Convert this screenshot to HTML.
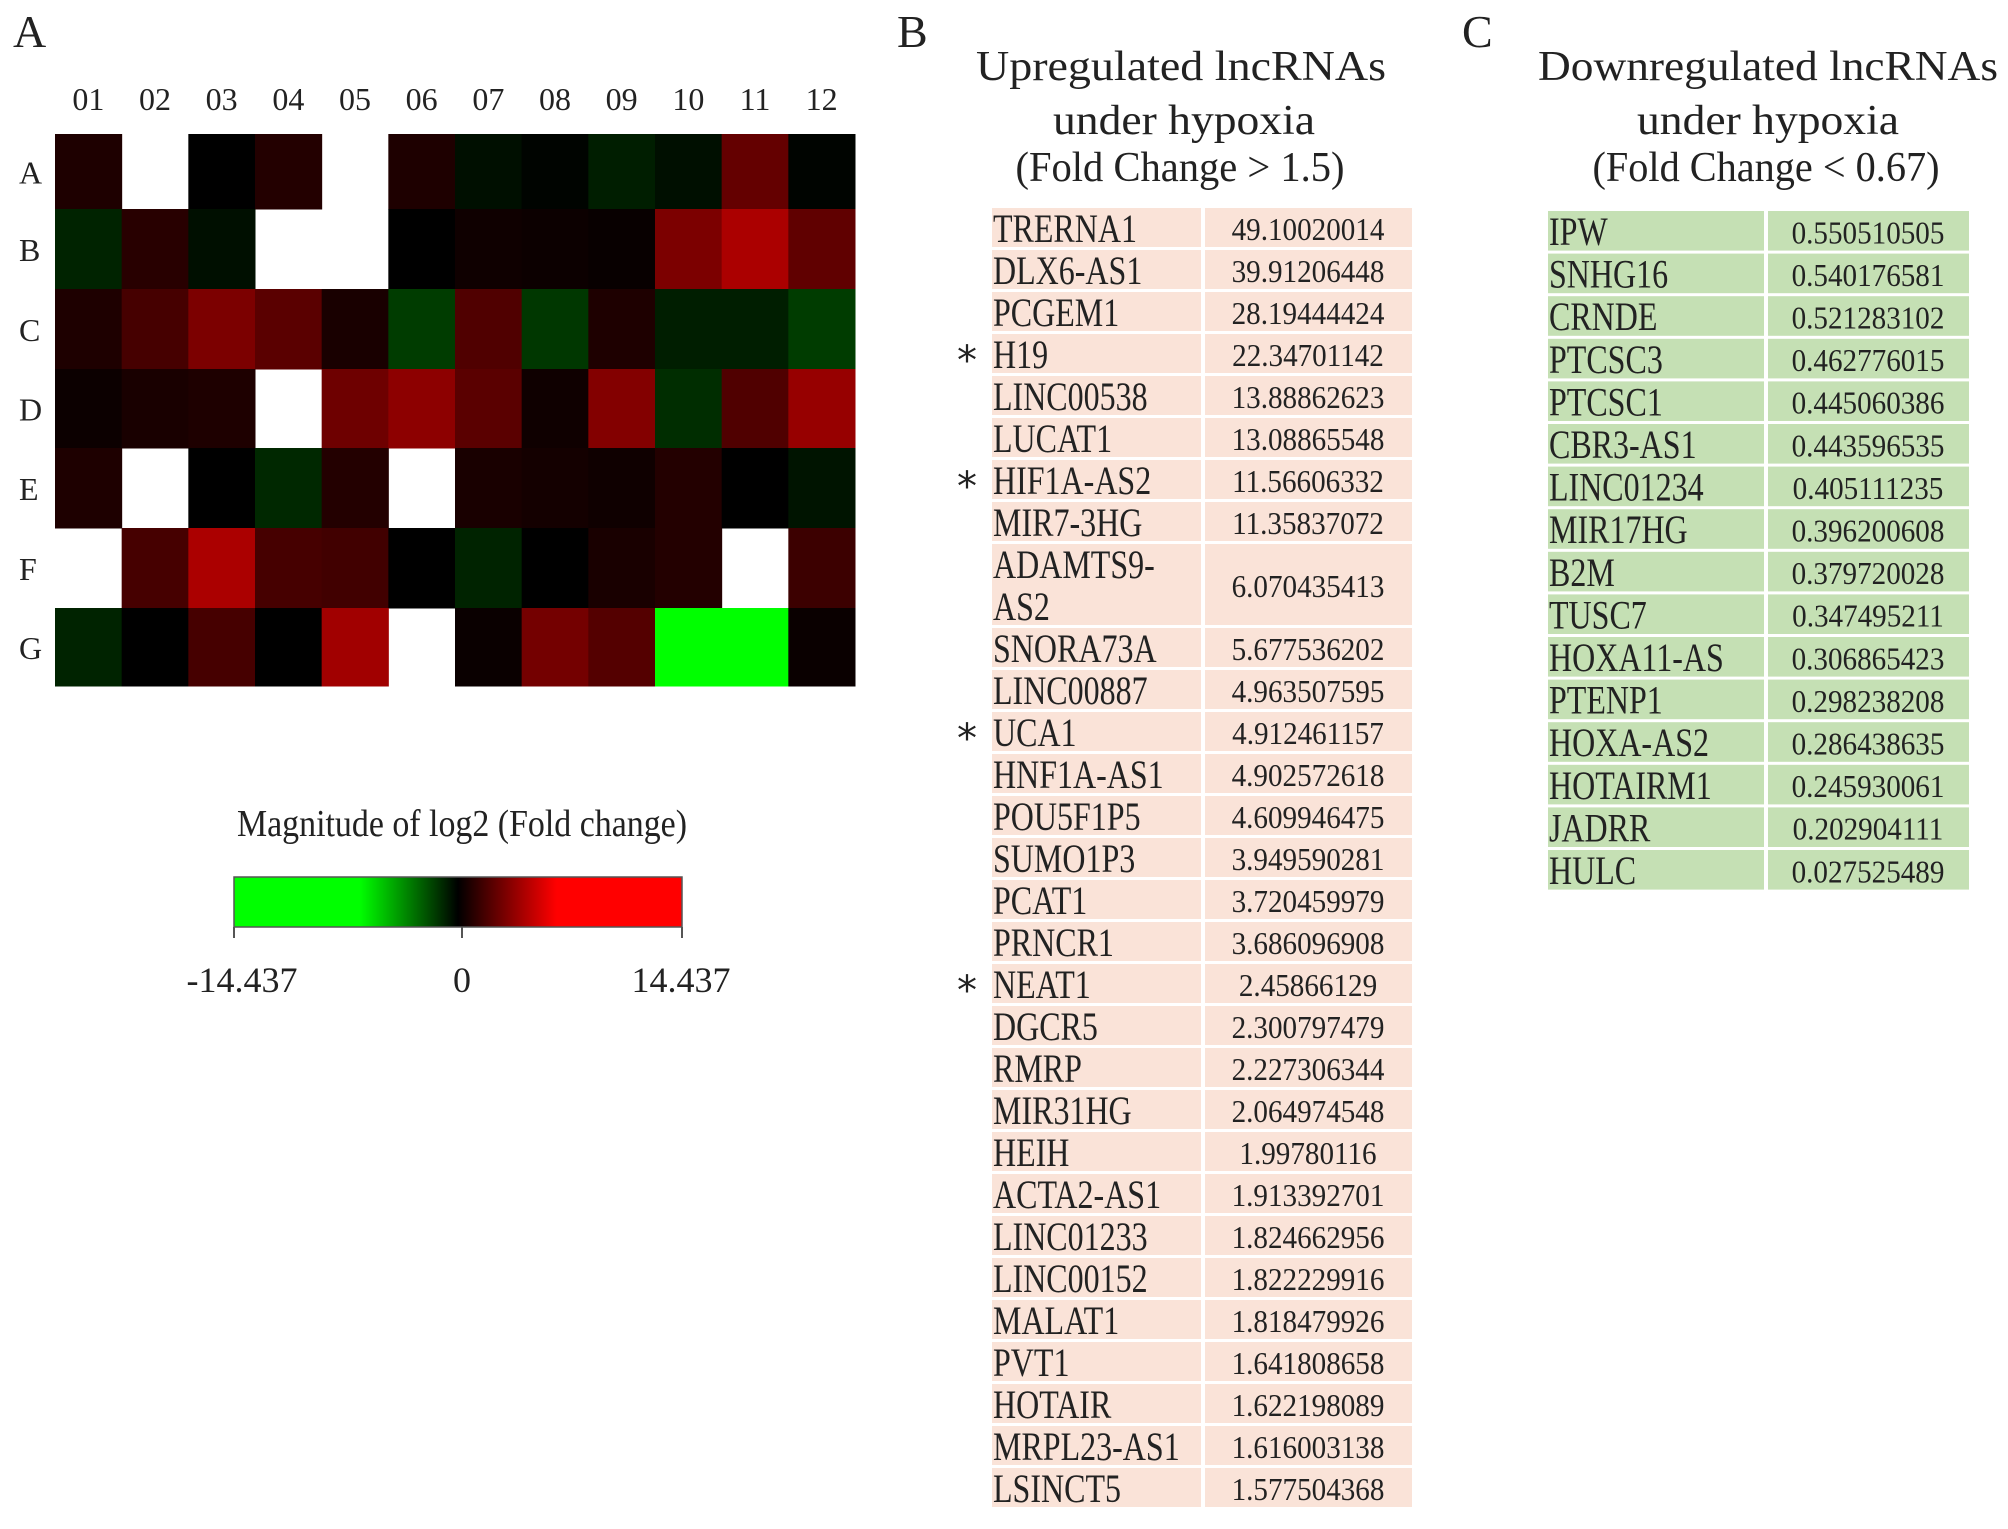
<!DOCTYPE html>
<html><head><meta charset="utf-8">
<style>
html,body{margin:0;padding:0;background:#fff;}
svg{display:block;font-family:"Liberation Serif",serif;}
</style></head>
<body>
<svg id="fig" width="2008" height="1529" viewBox="0 0 2008 1529" xmlns="http://www.w3.org/2000/svg">
<defs>
<linearGradient id="cbar" x1="0" x2="1" y1="0" y2="0">
<stop offset="0" stop-color="#00ff00"/><stop offset="0.28" stop-color="#00ff00"/>
<stop offset="0.5" stop-color="#000"/><stop offset="0.72" stop-color="#ff0000"/><stop offset="1" stop-color="#ff0000"/>
</linearGradient>
</defs>
<g id="heat"></g>
<g id="legend">
<text x="462" y="836" font-size="38" text-anchor="middle" textLength="450" lengthAdjust="spacingAndGlyphs" fill="#222">Magnitude of log2 (Fold change)</text>
<rect x="234" y="877" width="448" height="50" fill="url(#cbar)" stroke="#555" stroke-width="1.5"/>
<line x1="234" y1="927" x2="234" y2="938" stroke="#555" stroke-width="2"/>
<line x1="462" y1="927" x2="462" y2="938" stroke="#555" stroke-width="2"/>
<line x1="682" y1="927" x2="682" y2="938" stroke="#555" stroke-width="2"/>
<text x="242" y="992" font-size="36" text-anchor="middle" fill="#222">-14.437</text>
<text x="462" y="992" font-size="36" text-anchor="middle" fill="#222">0</text>
<text x="681" y="992" font-size="36" text-anchor="middle" fill="#222">14.437</text>
</g>
<text x="13" y="47" font-size="46" fill="#222">A</text>
<text x="897" y="47" font-size="46" fill="#222">B</text>
<text x="1462" y="47" font-size="46" fill="#222">C</text>
<g fill="#222" font-size="42" text-anchor="middle">
<text x="1181" y="80" textLength="410" lengthAdjust="spacingAndGlyphs">Upregulated lncRNAs</text>
<text x="1184" y="134" textLength="262" lengthAdjust="spacingAndGlyphs">under hypoxia</text>
<text x="1180" y="181" textLength="329" lengthAdjust="spacingAndGlyphs">(Fold Change &gt; 1.5)</text>
</g>
<g fill="#222" font-size="42" text-anchor="middle">
<text x="1768" y="80" textLength="460" lengthAdjust="spacingAndGlyphs">Downregulated lncRNAs</text>
<text x="1768" y="134" textLength="262" lengthAdjust="spacingAndGlyphs">under hypoxia</text>
<text x="1766" y="181" textLength="347" lengthAdjust="spacingAndGlyphs">(Fold Change &lt; 0.67)</text>
</g>
<g id="tabB"></g>
<g id="tabC"></g>
</svg>
<script>
// Heatmap data
const colLabels = ["01","02","03","04","05","06","07","08","09","10","11","12"];
const rowLabels = ["A","B","C","D","E","F","G"];
const rowA = [0.75,null,0,0.88,null,0.75,-0.38,-0.1,-0.75,-0.38,2.5,-0.1];
const rowB = [-0.88,1.0,-0.38,null,null,0,0.38,0.3,0.2,3.1,4.25,2.4];
const rowC = [0.75,1.75,3.1,2.25,0.62,-1.5,2.0,-1.38,0.75,-0.75,-0.75,-1.5];
const rowD = [0.3,0.62,0.75,null,2.75,3.5,2.25,0.38,3.25,-1.12,2.0,3.75];
const rowE = [0.75,null,0,-1.0,0.88,null,0.62,0.5,0.38,0.88,0,-0.5];
const rowF = [null,1.75,4.25,1.75,1.62,0,-0.88,0,0.62,0.88,null,1.5];
const rowG = [-0.88,0,1.75,0,4.0,null,0.25,2.9,2.1,-14.437,-14.437,0.25];
const heatValues = [rowA,rowB,rowC,rowD,rowE,rowF,rowG];

// Table data
const upNames = ["TRERNA1","DLX6-AS1","PCGEM1","H19","LINC00538","LUCAT1","HIF1A-AS2","MIR7-3HG","ADAMTS9-AS2","SNORA73A","LINC00887","UCA1","HNF1A-AS1","POU5F1P5","SUMO1P3","PCAT1","PRNCR1","NEAT1","DGCR5","RMRP","MIR31HG","HEIH","ACTA2-AS1","LINC01233","LINC00152","MALAT1","PVT1","HOTAIR","MRPL23-AS1","LSINCT5"];
const upValues = ["49.10020014","39.91206448","28.19444424","22.34701142","13.88862623","13.08865548","11.56606332","11.35837072","6.070435413","5.677536202","4.963507595","4.912461157","4.902572618","4.609946475","3.949590281","3.720459979","3.686096908","2.45866129","2.300797479","2.227306344","2.064974548","1.99780116","1.913392701","1.824662956","1.822229916","1.818479926","1.641808658","1.622198089","1.616003138","1.577504368"];
const upStarred = ["H19","HIF1A-AS2","UCA1","NEAT1"];
const downNames = ["IPW","SNHG16","CRNDE","PTCSC3","PTCSC1","CBR3-AS1","LINC01234","MIR17HG","B2M","TUSC7","HOXA11-AS","PTENP1","HOXA-AS2","HOTAIRM1","JADRR","HULC"];
const downValues = ["0.550510505","0.540176581","0.521283102","0.462776015","0.445060386","0.443596535","0.405111235","0.396200608","0.379720028","0.347495211","0.306865423","0.298238208","0.286438635","0.245930061","0.202904111","0.027525489"];

const NS = "http://www.w3.org/2000/svg";
function mk(tag, attrs, parent){ const e=document.createElementNS(NS,tag); for(const k in attrs) e.setAttribute(k,attrs[k]); parent.appendChild(e); return e; }

// heatmap scales
const hx0=55, hx1=855, rowEdges=[134,209,289,369,448,528,608,686];
const cw=(hx1-hx0)/colLabels.length;
const xCol = i => hx0 + i*cw;
const SAT = 6.35;
function colorOf(v){ const t=Math.min(1,Math.abs(v)/SAT); const c=Math.round(255*t); return v>=0?`rgb(${c},0,0)`:`rgb(0,${c},0)`; }
const heat=document.getElementById('heat');
colLabels.forEach((lab,i)=>{
  const t=mk('text',{x:xCol(i)+cw/2,y:110,'font-size':32,'text-anchor':'middle',fill:'#222'},heat);
  t.textContent=lab;
  
  
});
rowLabels.forEach((lab,r)=>{
  const t=mk('text',{x:19,y:(rowEdges[r]+rowEdges[r+1])/2+12,'font-size':32,fill:'#222'},heat);
  t.textContent=lab;
  
  
  heatValues[r].forEach((v,c)=>{
    if(v===null) return;
    const rc=mk('rect',{x:xCol(c),y:rowEdges[r],width:cw+0.5,height:rowEdges[r+1]-rowEdges[r]+0.5,fill:colorOf(v)},heat);
    
    
  });
});

// tables
function drawTable(g, names, values, starred, x0, xd, x1, y0, unit, valCenter, bg){
  let y=y0;
  names.forEach((n,i)=>{
    const twoLine = n==="ADAMTS9-AS2";
    const h = unit*(twoLine?2:1);
    const r1=mk('rect',{x:x0,y:y,width:xd-x0,height:h-3,fill:bg},g);
    
    
    const r2=mk('rect',{x:xd+4,y:y,width:x1-xd-4,height:h-3,fill:bg},g);
    
    
    const lines = twoLine ? ["ADAMTS9-","AS2"] : [n];
    lines.forEach((ln,k)=>{
      const t=mk('text',{transform:`translate(${x0+1},${y+34+k*unit}) scale(0.8,1)`,'font-size':40,fill:'#222'},g);
      t.textContent=ln;
      
      
    });
    const tv=mk('text',{transform:`translate(${valCenter},${y+h/2+11}) scale(0.91,1)`,'font-size':32,'text-anchor':'middle',fill:'#222'},g);
    tv.textContent=values[i];
    
    
    if(starred.includes(n)){
      const s=mk('text',{x:967,y:y+40,'font-size':40,'text-anchor':'middle',fill:'#222','font-family':'DejaVu Sans, sans-serif'},g);
      s.textContent='*';
      
      
    }
    y+=h;
  });
}
drawTable(document.getElementById('tabB'), upNames, upValues, upStarred, 992, 1201, 1412, 208, 42, 1308, '#fae3d8');
drawTable(document.getElementById('tabC'), downNames, downValues, [], 1548, 1764, 1969, 211, 42.6, 1868, '#c5e0b4');
</script>
</body></html>
